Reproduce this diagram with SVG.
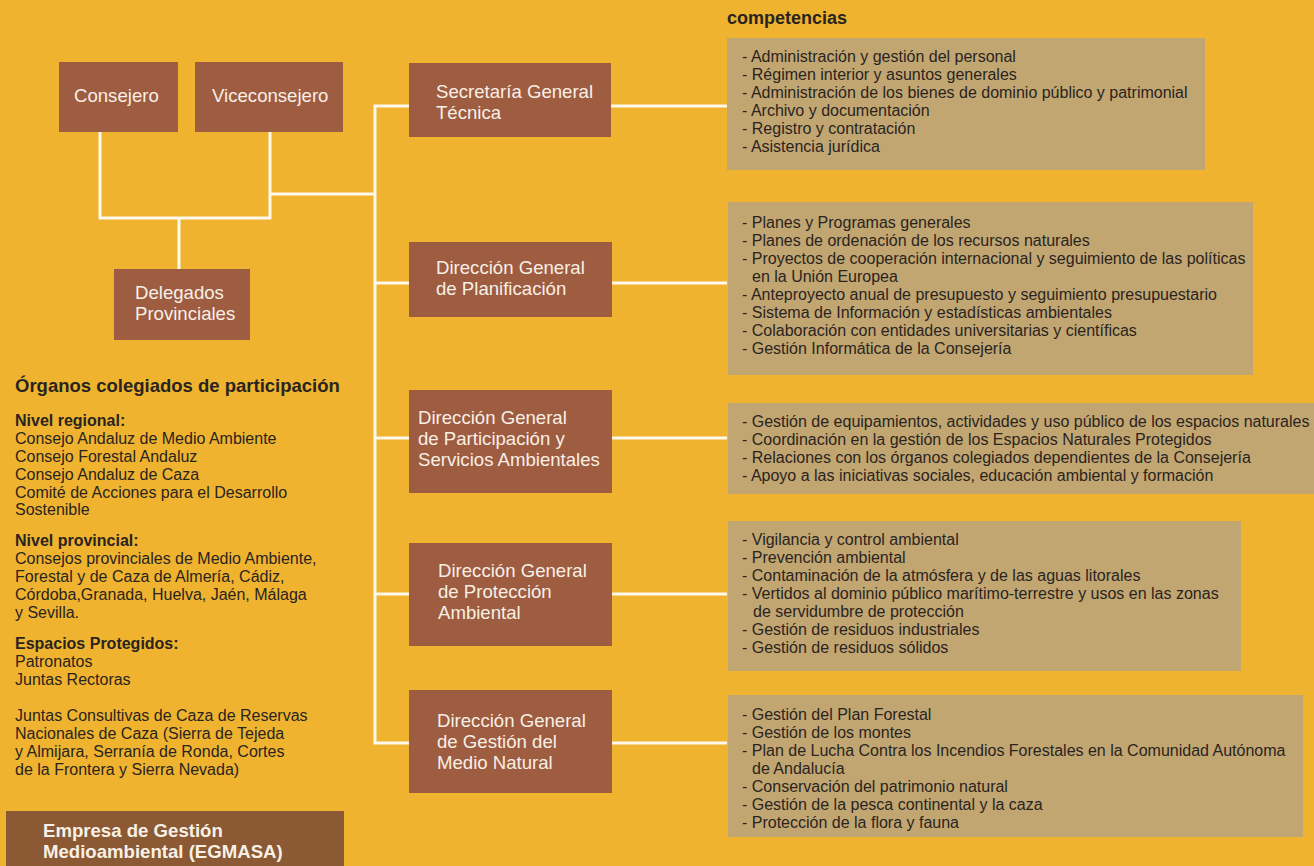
<svg xmlns="http://www.w3.org/2000/svg" width="1314" height="866" viewBox="0 0 1314 866">
<style>
.node{fill:#9E5C41}
.comp{fill:#C2A672}
.nt{font-family:"Liberation Sans",Arial,sans-serif;font-size:18.6px;fill:#F8F0E6}
.ct{font-family:"Liberation Sans",Arial,sans-serif;font-size:16px;fill:#2A2420}
.lt{font-family:"Liberation Sans",Arial,sans-serif;font-size:16px;fill:#2A2420}
.b{font-weight:bold}
.conn{fill:none;stroke:#FFF8EC;stroke-width:3}
</style>
<rect x="0" y="0" width="1314" height="866" fill="#EFB32F"/>
<g id="connectors" class="conn">
<polyline points="100,132 100,218 270,218 270,132"/>
<line x1="179" y1="218" x2="179" y2="269"/>
<line x1="270" y1="194" x2="375" y2="194"/>
<polyline points="409,106 375,106 375,743 409,743"/>
<line x1="375" y1="283" x2="409" y2="283"/>
<line x1="375" y1="438" x2="409" y2="438"/>
<line x1="375" y1="594" x2="409" y2="594"/>
<line x1="611" y1="106" x2="727" y2="106"/>
<line x1="611" y1="283" x2="727" y2="283"/>
<line x1="611" y1="438" x2="727" y2="438"/>
<line x1="611" y1="594" x2="727" y2="594"/>
<line x1="611" y1="743" x2="727" y2="743"/>
</g>
<g id="consejero"><rect class="node" x="59" y="62" width="119" height="70"/><text class="nt" x="74" y="102">Consejero</text></g>
<g id="viceconsejero"><rect class="node" x="195" y="62" width="148" height="70"/><text class="nt" x="212" y="102">Viceconsejero</text></g>
<g id="delegados"><rect class="node" x="114" y="269" width="136" height="71"/><text class="nt" x="135" y="299">Delegados</text><text class="nt" x="135" y="320">Provinciales</text></g>
<g id="sgt"><rect class="node" x="409" y="63" width="202" height="74"/><text class="nt" x="436" y="98">Secretaría General</text><text class="nt" x="436" y="119">Técnica</text></g>
<g id="dgp"><rect class="node" x="409" y="242" width="203" height="75"/><text class="nt" x="436" y="274">Dirección General</text><text class="nt" x="436" y="295">de Planificación</text></g>
<g id="dgpsa"><rect class="node" x="409" y="390" width="203" height="103"/><text class="nt" x="418" y="424">Dirección General</text><text class="nt" x="418" y="445">de Participación y</text><text class="nt" x="418" y="466">Servicios Ambientales</text></g>
<g id="dgpa"><rect class="node" x="409" y="543" width="203" height="103"/><text class="nt" x="438" y="577">Dirección General</text><text class="nt" x="438" y="598">de Protección</text><text class="nt" x="438" y="619">Ambiental</text></g>
<g id="dggmn"><rect class="node" x="409" y="690" width="203" height="103"/><text class="nt" x="437" y="727">Dirección General</text><text class="nt" x="437" y="748">de Gestión del</text><text class="nt" x="437" y="769">Medio Natural</text></g>
<text class="ct b" x="727" y="24" font-size="18px" style="font-size:18px">competencias</text>
<g id="comp1"><rect class="comp" x="727" y="38" width="478" height="132"/>
<text class="ct" x="742" y="62">- Administración y gestión del personal</text>
<text class="ct" x="742" y="80">- Régimen interior y asuntos generales</text>
<text class="ct" x="742" y="98">- Administración de los bienes de dominio público y patrimonial</text>
<text class="ct" x="742" y="116">- Archivo y documentación</text>
<text class="ct" x="742" y="134">- Registro y contratación</text>
<text class="ct" x="742" y="152">- Asistencia jurídica</text></g>
<g id="comp2"><rect class="comp" x="728" y="202" width="525" height="173"/>
<text class="ct" x="742" y="228">- Planes y Programas generales</text>
<text class="ct" x="742" y="246">- Planes de ordenación de los recursos naturales</text>
<text class="ct" x="742" y="264">- Proyectos de cooperación internacional y seguimiento de las políticas</text>
<text class="ct" x="752" y="282">en la Unión Europea</text>
<text class="ct" x="742" y="300">- Anteproyecto anual de presupuesto y seguimiento presupuestario</text>
<text class="ct" x="742" y="318">- Sistema de Información y estadísticas ambientales</text>
<text class="ct" x="742" y="336">- Colaboración con entidades universitarias y científicas</text>
<text class="ct" x="742" y="354">- Gestión Informática de la Consejería</text></g>
<g id="comp3"><rect class="comp" x="728" y="403" width="586" height="91"/>
<text class="ct" x="742" y="427">- Gestión de equipamientos, actividades y uso público de los espacios naturales</text>
<text class="ct" x="742" y="445">- Coordinación en la gestión de los Espacios Naturales Protegidos</text>
<text class="ct" x="742" y="463">- Relaciones con los órganos colegiados dependientes de la Consejería</text>
<text class="ct" x="742" y="481">- Apoyo a las iniciativas sociales, educación ambiental y formación</text></g>
<g id="comp4"><rect class="comp" x="728" y="521" width="513" height="150"/>
<text class="ct" x="742" y="545">- Vigilancia y control ambiental</text>
<text class="ct" x="742" y="563">- Prevención ambiental</text>
<text class="ct" x="742" y="581">- Contaminación de la atmósfera y de las aguas litorales</text>
<text class="ct" x="742" y="599">- Vertidos al dominio público marítimo-terrestre y usos en las zonas</text>
<text class="ct" x="753" y="617">de servidumbre de protección</text>
<text class="ct" x="742" y="635">- Gestión de residuos industriales</text>
<text class="ct" x="742" y="653">- Gestión de residuos sólidos</text></g>
<g id="comp5"><rect class="comp" x="728" y="695" width="575" height="142"/>
<text class="ct" x="742" y="720">- Gestión del Plan Forestal</text>
<text class="ct" x="742" y="738">- Gestión de los montes</text>
<text class="ct" x="742" y="756">- Plan de Lucha Contra los Incendios Forestales en la Comunidad Autónoma</text>
<text class="ct" x="752" y="774">de Andalucía</text>
<text class="ct" x="742" y="792">- Conservación del patrimonio natural</text>
<text class="ct" x="742" y="810">- Gestión de la pesca continental y la caza</text>
<text class="ct" x="742" y="828">- Protección de la flora y fauna</text></g>
<g id="organos">
<text class="lt b" x="15" y="392" style="font-size:18.5px">Órganos colegiados de participación</text>
<text class="lt b" x="15" y="426">Nivel regional:</text>
<text class="lt" x="15" y="444">Consejo Andaluz de Medio Ambiente</text>
<text class="lt" x="15" y="462">Consejo Forestal Andaluz</text>
<text class="lt" x="15" y="480">Consejo Andaluz de Caza</text>
<text class="lt" x="15" y="498">Comité de Acciones para el Desarrollo</text>
<text class="lt" x="15" y="515">Sostenible</text>
<text class="lt b" x="15" y="546">Nivel provincial:</text>
<text class="lt" x="15" y="564">Consejos provinciales de Medio Ambiente,</text>
<text class="lt" x="15" y="582">Forestal y de Caza de Almería, Cádiz,</text>
<text class="lt" x="15" y="600">Córdoba,Granada, Huelva, Jaén, Málaga</text>
<text class="lt" x="15" y="618">y Sevilla.</text>
<text class="lt b" x="15" y="649">Espacios Protegidos:</text>
<text class="lt" x="15" y="667">Patronatos</text>
<text class="lt" x="15" y="685">Juntas Rectoras</text>
<text class="lt" x="15" y="721">Juntas Consultivas de Caza de Reservas</text>
<text class="lt" x="15" y="739">Nacionales de Caza (Sierra de Tejeda</text>
<text class="lt" x="15" y="757">y Almijara, Serranía de Ronda, Cortes</text>
<text class="lt" x="15" y="775">de la Frontera y Sierra Nevada)</text>
</g>
<g id="egmasa"><rect x="6" y="811" width="338" height="55" fill="#8B5A34"/>
<text class="nt b" x="43" y="837">Empresa de Gestión</text>
<text class="nt b" x="43" y="858">Medioambiental (EGMASA)</text></g>
</svg>
